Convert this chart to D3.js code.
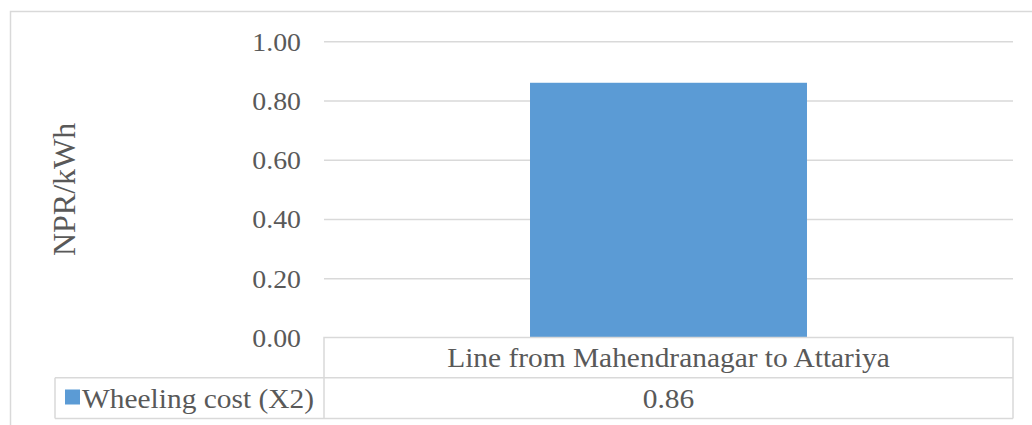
<!DOCTYPE html>
<html>
<head>
<meta charset="utf-8">
<script src="https://cdn.jsdelivr.net/npm/d3@7"></script>
<style>
  html, body { margin: 0; padding: 0; background: #fff; }
  svg { display: block; }
</style>
</head>
<body>
<svg id="chart" width="1032" height="425"></svg>
<script>
// Chart data
const categories = ["Line from Mahendranagar to Attariya"];
const seriesName = "Wheeling cost (X2)";
const seriesValues = [0.86];
const yTicks = [0, 0.2, 0.4, 0.6, 0.8, 1.0];
const yTitle = "NPR/kWh";

const svg = d3.select("#chart");
const FONT = "Liberation Serif";
const STRETCH = 1.07;          // slightly wide text, as in the original export
const textColor = "#595959";
const lineColor = "#d9d9d9";
const barColor = "#5b9bd5";

const plot = { left: 324, right: 1013, top: 41.3, bottom: 337.5 };
const tableBottom = 418.5;
const rowSplit = 377.7;
const legendLeft = 55;

// Place a horizontally widened text at (px, py)
function wideText(sel, px, py) {
  return sel.attr("x", 0).attr("y", 0)
    .attr("transform", `translate(${px},${py}) scale(${STRETCH},1)`);
}

// Outer chart frame
svg.append("rect")
  .attr("x", 10.5).attr("y", 11.5)
  .attr("width", 1040).attr("height", 440)
  .attr("fill", "none").attr("stroke", lineColor).attr("stroke-width", 1.5);

const x = d3.scaleBand()
  .domain(categories)
  .range([plot.left, plot.right])
  .paddingInner(0.598).paddingOuter(0.299);

const y = d3.scaleLinear().domain([0, 1]).range([plot.bottom, plot.top]);

// Horizontal gridlines and tick labels
const yAxis = d3.axisLeft(y)
  .tickValues(yTicks)
  .tickFormat(d3.format(".2f"))
  .tickSize(-(plot.right - plot.left))
  .tickPadding(23);

const gy = svg.append("g")
  .attr("transform", `translate(${plot.left},0)`)
  .call(yAxis);
gy.attr("font-family", FONT).attr("font-size", 26);
gy.select(".domain").remove();
gy.selectAll(".tick line")
  .attr("stroke", lineColor).attr("stroke-width", 1.5)
  .filter(d => d === 0).remove();
gy.selectAll(".tick text")
  .attr("fill", textColor)
  .attr("dy", "0.34em")
  .attr("x", -23 / STRETCH)
  .attr("transform", `scale(${STRETCH},1)`);

// Bars
svg.append("g").selectAll("rect")
  .data(categories)
  .join("rect")
  .attr("x", d => x(d))
  .attr("width", x.bandwidth())
  .attr("y", (d, i) => y(seriesValues[i]))
  .attr("height", (d, i) => y(0) - y(seriesValues[i]))
  .attr("fill", barColor);

// Y axis title
svg.append("text")
  .attr("transform", `translate(75,${(plot.top + plot.bottom) / 2}) rotate(-90)`)
  .attr("text-anchor", "middle")
  .attr("font-family", FONT)
  .attr("font-size", 32)
  .attr("fill", textColor)
  .text(yTitle);

// Data table below the plot
const table = svg.append("g")
  .attr("fill", "none").attr("stroke", lineColor).attr("stroke-width", 1.5);

// category header row
table.append("path")
  .attr("d", `M${plot.left},${tableBottom} V${plot.bottom} H${plot.right} V${tableBottom}`);
// row separator, bottom edge and legend cell edge
table.append("path")
  .attr("d", `M${legendLeft},${rowSplit} H${plot.right} M${legendLeft},${tableBottom} H${plot.right} M${legendLeft},${rowSplit} V${tableBottom}`);
// column separators between categories
categories.slice(1).forEach(c => {
  const xs = x(c) - x.step() * x.paddingInner() / 2;
  table.append("line").attr("x1", xs).attr("x2", xs).attr("y1", plot.bottom).attr("y2", tableBottom);
});

// Category header labels
svg.append("g").selectAll("text")
  .data(categories)
  .join("text")
  .call(s => s.each(function (d) {
    wideText(d3.select(this), x(d) + x.bandwidth() / 2, 366.7);
  }))
  .attr("text-anchor", "middle")
  .attr("font-family", FONT)
  .attr("font-size", 27.5)
  .attr("fill", textColor)
  .text(d => d);

// Value row
svg.append("g").selectAll("text")
  .data(categories)
  .join("text")
  .call(s => s.each(function (d) {
    wideText(d3.select(this), x(d) + x.bandwidth() / 2, 407.5);
  }))
  .attr("text-anchor", "middle")
  .attr("font-family", FONT)
  .attr("font-size", 27.5)
  .attr("fill", textColor)
  .text((d, i) => seriesValues[i].toFixed(2));

// Legend key in the table
svg.append("rect")
  .attr("x", 65).attr("y", 389.5)
  .attr("width", 15).attr("height", 15)
  .attr("fill", barColor);
wideText(svg.append("text"), 82, 407.5)
  .attr("font-family", FONT)
  .attr("font-size", 27.5)
  .attr("fill", textColor)
  .text(seriesName);
</script>
</body>
</html>
